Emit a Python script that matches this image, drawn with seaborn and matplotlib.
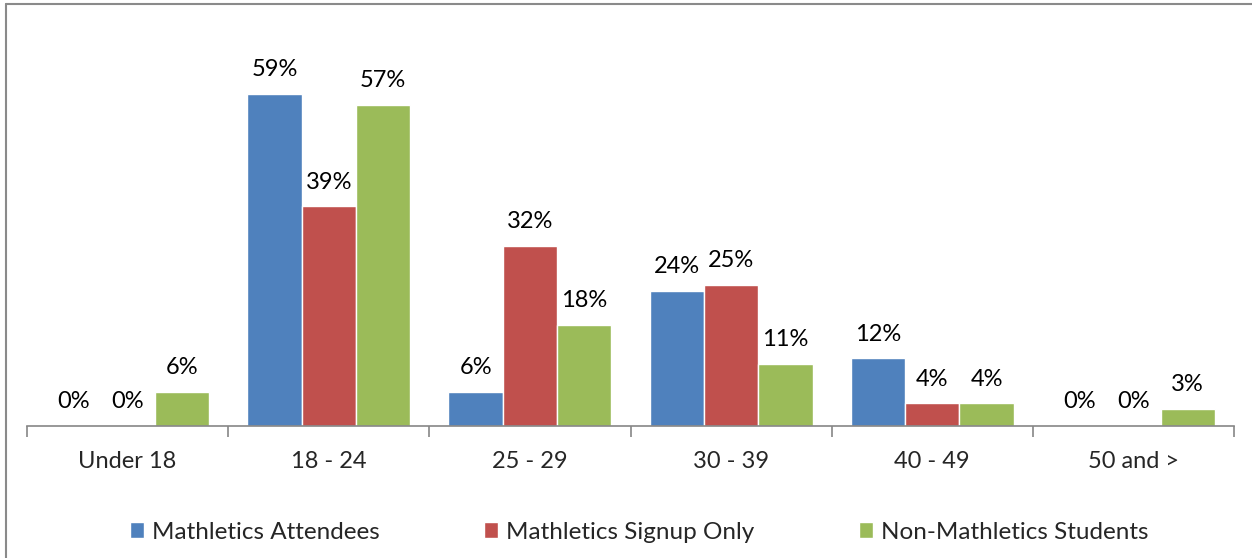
import pandas as pd
import matplotlib.pyplot as plt
import seaborn as sns
from matplotlib.lines import Line2D

categories = ['Under 18', '18 - 24', '25 - 29', '30 - 39', '40 - 49', '50 and >']
series = ['Mathletics Attendees', 'Mathletics Signup Only', 'Non-Mathletics Students']
attendees = [0, 59, 6, 24, 12, 0]
signup_only = [0, 39, 32, 25, 4, 0]
non_mathletics = [6, 57, 18, 11, 4, 3]
colors = ['#4F81BD', '#C0504D', '#9BBB59']

rows = []
for name, vals in zip(series, [attendees, signup_only, non_mathletics]):
    for cat, v in zip(categories, vals):
        rows.append({'Age': cat, 'Group': name, 'Pct': v})
df = pd.DataFrame(rows)

sns.set_style('white')
plt.rcParams['font.family'] = ['Lato', 'DejaVu Sans']

fig = plt.figure(figsize=(12.52, 5.58), dpi=100)
ax = fig.add_axes([27 / 1252, 1 - 426 / 558, (1234 - 27) / 1252, 393 / 558])

sns.barplot(data=df, x='Age', y='Pct', hue='Group', palette=colors,
            width=0.81, saturation=1, ax=ax, legend=True)

for cont in ax.containers:
    ax.bar_label(cont, fmt='%g%%', padding=10, fontsize=17, color='#000000')

ax.set_xlim(-0.5, 5.5)
ax.set_ylim(0, 69.8)
ax.set_xlabel('')
ax.set_ylabel('')
ax.set_yticks([])
for s in ['top', 'right', 'left']:
    ax.spines[s].set_visible(False)
ax.spines['bottom'].set_color('#868686')
ax.spines['bottom'].set_linewidth(1.2)

ax.set_xticks([i - 0.5 for i in range(7)], minor=False)
ax.set_xticklabels([''] * 7)
ax.tick_params(axis='x', which='major', direction='out', length=8, width=1.2,
               color='#868686', bottom=True)
ax.set_xticks(range(6), minor=True)
ax.set_xticklabels(categories, minor=True, fontsize=17)
ax.tick_params(axis='x', which='minor', length=0, pad=18)

handles, labels = ax.get_legend_handles_labels()
ax.legend(handles, labels, loc='center', bbox_to_anchor=(0.507, -0.27), ncol=3,
          frameon=False, fontsize=17.5, handlelength=0.58, handleheight=0.58,
          handletextpad=0.33, columnspacing=4.3)

fig.add_artist(Line2D([6 / 1252, 6 / 1252], [0, 1 - 4 / 558], color='#8a8a8a', lw=1.5))
fig.add_artist(Line2D([6 / 1252, 1], [1 - 4 / 558, 1 - 4 / 558], color='#8a8a8a', lw=1.5))

fig.savefig('out.png', dpi=100)
